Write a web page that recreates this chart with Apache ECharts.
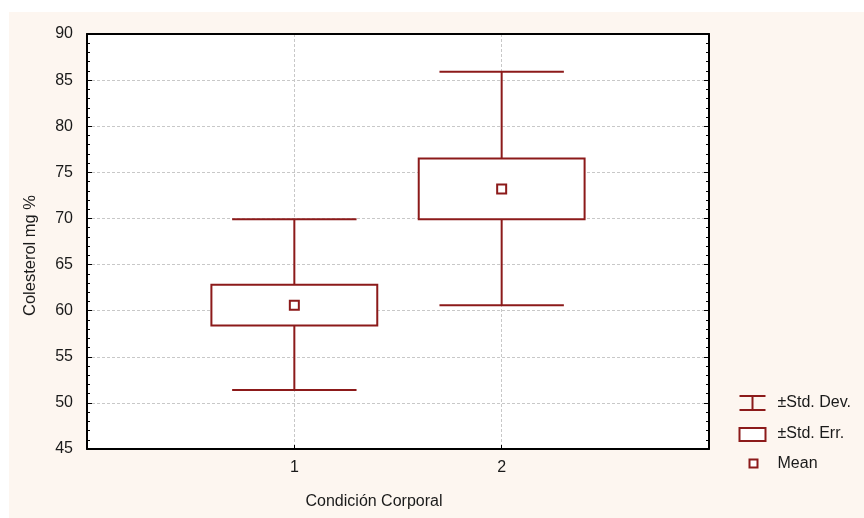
<!DOCTYPE html>
<html>
<head>
<meta charset="utf-8">
<script src="https://cdn.jsdelivr.net/npm/echarts@6/dist/echarts.min.js"></script>
<style>
html,body{margin:0;padding:0;background:#ffffff;}
#bg{position:absolute;left:9px;top:12px;width:855px;height:506px;background:#fdf6f0;}
#chart{position:absolute;left:0;top:0;width:864px;height:518px;}
</style>
</head>
<body>
<div id="bg"></div>
<div id="chart"></div>
<script>
// Data
const categories = [1, 2];
const means = [60.6, 73.2];
const seLow = [58.4, 69.9];
const seHigh = [62.8, 76.5];
const sdLow = [51.4, 60.6];
const sdHigh = [69.9, 85.9];
const yTicks = [45, 50, 55, 60, 65, 70, 75, 80, 85, 90];
const xTickLabels = ['1', '2'];
const yName = 'Colesterol mg %';
const xName = 'Condición Corporal';
const legendNames = ['±Std. Dev.', '±Std. Err.', 'Mean'];

const RED = '#8c1a1a';
const FONT = 'Arial, "Liberation Sans", sans-serif';
const TXT = '#1a1a1a';

const sdData = categories.map((c, i) => [c, sdLow[i], sdHigh[i]]);
const seData = categories.map((c, i) => [c, seLow[i], seHigh[i]]);
const meanData = categories.map((c, i) => [c, means[i]]);

const chart = echarts.init(document.getElementById('chart'), null, {renderer: 'canvas'});

function whiskers(params, api) {
  const x = api.value(0);
  const lo = api.coord([x, api.value(1)]);
  const hi = api.coord([x, api.value(2)]);
  const l = api.coord([x - 0.3, api.value(1)])[0];
  const r = api.coord([x + 0.3, api.value(1)])[0];
  const st = {stroke: RED, lineWidth: 2, fill: null};
  return {type: 'group', children: [
    {type: 'line', shape: {x1: lo[0], y1: lo[1], x2: hi[0], y2: hi[1]}, style: st},
    {type: 'line', shape: {x1: l, y1: lo[1], x2: r, y2: lo[1]}, style: st},
    {type: 'line', shape: {x1: l, y1: hi[1], x2: r, y2: hi[1]}, style: st}
  ]};
}
function boxes(params, api) {
  const x = api.value(0);
  const lo = api.coord([x - 0.4, api.value(1)]);
  const hi = api.coord([x + 0.4, api.value(2)]);
  return {type: 'rect', shape: {x: lo[0], y: hi[1], width: hi[0] - lo[0], height: lo[1] - hi[1]},
    style: {stroke: RED, lineWidth: 2, fill: '#ffffff'}};
}

const yAxisBase = {
  type: 'value', min: 45, max: 90, interval: 5,
  axisLine: {show: true, onZero: false, lineStyle: {color: '#000', width: 2}},
  axisTick: {show: true, inside: true, length: 5, lineStyle: {color: '#000', width: 1}},
  minorTick: {show: true, splitNumber: 5, length: 3, lineStyle: {color: '#000', width: 1}},
  splitLine: {show: false}
};

const option = {
  backgroundColor: 'transparent',
  animation: false,
  grid: {left: 87, right: 155, top: 34, bottom: 69, show: true, backgroundColor: '#ffffff', borderWidth: 0},
  xAxis: [{
    type: 'value', min: 0, max: 3, interval: 1,
    name: xName, nameLocation: 'middle', nameGap: 45,
    nameTextStyle: {fontSize: 16, color: TXT, fontFamily: FONT, padding: [0, 48, 0, 0]},
    axisLine: {show: true, onZero: false, lineStyle: {color: '#000', width: 2}},
    axisTick: {show: true, inside: true, length: 4, lineStyle: {color: '#000'}},
    axisLabel: {fontSize: 16, color: TXT, fontFamily: FONT, margin: 11,
      formatter: v => { const i = categories.indexOf(v); return i >= 0 ? xTickLabels[i] : ''; }},
    splitLine: {show: true, showMinLine: false, showMaxLine: false, lineStyle: {color: '#c8c8c8', type: [3, 2], width: 1}}
  }, {
    type: 'value', min: 0, max: 3, interval: 1, position: 'top',
    axisLine: {show: true, onZero: false, lineStyle: {color: '#000', width: 2}},
    axisTick: {show: false}, axisLabel: {show: false}, splitLine: {show: false}
  }],
  yAxis: [Object.assign({}, yAxisBase, {
    position: 'left',
    name: yName, nameLocation: 'middle', nameGap: 48,
    nameTextStyle: {fontSize: 16.5, color: TXT, fontFamily: FONT, padding: [0, 28, 0, 0]},
    axisLabel: {fontSize: 16, color: TXT, fontFamily: FONT, margin: 14,
      formatter: v => yTicks.indexOf(v) >= 0 ? String(v) : ''},
    splitLine: {show: true, showMinLine: false, showMaxLine: false, lineStyle: {color: '#c8c8c8', type: [3, 2], width: 1}}
  }), Object.assign({}, yAxisBase, {
    position: 'right', axisLabel: {show: false}
  })],
  legend: {
    show: true, orient: 'vertical', left: 736, top: 392.5, padding: 0,
    itemWidth: 34, itemHeight: 16, itemGap: 11.5, selectedMode: false,
    textStyle: {fontSize: 16, lineHeight: 16, color: TXT, fontFamily: FONT},
    data: [
      {name: legendNames[0], icon: 'path://M0,0M34,16M1,1H27M14,1V15M1,15H27',
        itemStyle: {color: 'none', borderColor: RED, borderWidth: 2}},
      {name: legendNames[1], icon: 'path://M0,0M34,16M1,2H27V15H1Z',
        itemStyle: {color: '#ffffff', borderColor: RED, borderWidth: 2}},
      {name: legendNames[2], icon: 'path://M0,0M34,16M11,4H19V12H11Z',
        itemStyle: {color: '#ffffff', borderColor: RED, borderWidth: 2}}
    ]
  },
  series: [
    {name: legendNames[0], type: 'custom', renderItem: whiskers, data: sdData,
      itemStyle: {color: RED}, encode: {x: 0, y: [1, 2]}, z: 2},
    {name: legendNames[1], type: 'custom', renderItem: boxes, data: seData,
      itemStyle: {color: RED}, encode: {x: 0, y: [1, 2]}, z: 3},
    {name: legendNames[2], type: 'scatter', data: meanData, symbol: 'rect', symbolSize: 9,
      itemStyle: {color: '#ffffff', borderColor: RED, borderWidth: 2, opacity: 1}, z: 4}
  ]
};
chart.setOption(option);
</script>
</body>
</html>
